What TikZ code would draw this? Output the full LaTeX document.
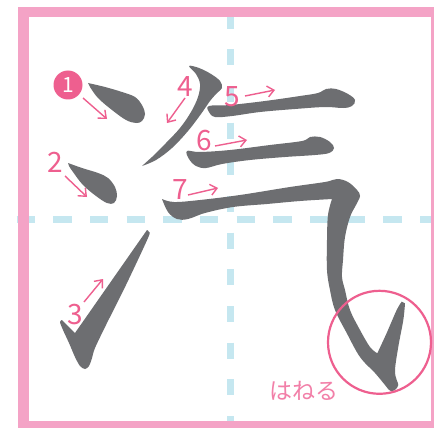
\documentclass[tikz,border=0pt]{standalone}
\usepackage{fontspec}
\newfontfamily\jp{Noto Sans CJK JP}
\usetikzlibrary{arrows.meta}
\definecolor{framepink}{HTML}{F4A3C6}
\definecolor{labpink}{HTML}{EE5F8F}
\definecolor{kanapink}{HTML}{F27FA8}
\definecolor{ink}{HTML}{6D6E71}
\definecolor{guide}{HTML}{C5E7F0}
\tikzset{
  inkfill/.style={fill=ink},
  guideline/.style={draw=guide, line width=7pt},
  numlabel/.style={text=labpink, font=\jp\fontsize{28}{28}\selectfont, inner sep=0pt},
  orderarrow/.style={draw=labpink, line width=1.4pt, -{Straight Barb[length=6.5pt,width=11pt]}},
}
\begin{document}
\begin{tikzpicture}[x=1pt,y=-1pt]
\useasboundingbox (0,0) rectangle (434,428);
\fill[white] (0,0) rectangle (434,428);
% guide lines
\draw[guideline, dash pattern=on 18.33pt off 18.34pt] (16.67,219) -- (440,219);
\draw[guideline, dash pattern=on 16pt off 20.67pt] (230.3,12.7) -- (230.3,428);
% frame
\draw[draw=framepink, line width=10.5pt] (23.5,12) rectangle (436.5,426);
% stroke 1
\fill[inkfill] plot[smooth, tension=0.6] coordinates {(88,83) (105,87) (122,92) (135,97) (142,105) (145,114) (142,121) (136,123) (126,120) (112,110) (98,98) (90,87)} -- cycle;
% stroke 2
\fill[inkfill] plot[smooth, tension=0.6] coordinates {(68,163) (82,168) (98,173) (108,178) (115,187) (117,196) (114,203) (107,203) (96,196) (83,185) (73,172) (69,166)} -- cycle;
% stroke 3
\fill[inkfill] plot[smooth, tension=0.5] coordinates {(147,230) (149,232) (148,238) (126,285) (106,325) (95,348) (92,358) (89,366) (85,369) (80,366) (75,357) (69,343) (63,330) (60,322) (62,320)} -- (75,333) -- cycle;
% stroke 4
\fill[inkfill] plot[smooth, tension=0.6] coordinates {(142,166) (156,160) (172,148) (188,131) (201,114) (210,101) (217,93) (222,88) (220,81) (211,74) (199,68) (189,66) (196,74) (200,84) (198,97) (191,112) (180,128) (166,143) (152,157)} -- cycle;
% stroke 5
\fill[inkfill] plot[smooth cycle, tension=0.6] coordinates {(209,106) (230,105) (265,101) (300,96) (318,93) (326,89) (336,89) (348,94) (355,100) (352,106) (343,108) (325,107) (295,109) (260,112) (232,116) (215,117) (209,112)};
% stroke 6
\fill[inkfill] plot[smooth cycle, tension=0.6] coordinates {(187,151) (200,152) (230,150) (270,145) (302,141) (310,137) (320,137) (330,142) (334,148) (329,153) (315,155) (285,157) (250,160) (222,164) (206,168) (196,166) (189,159)};
% stroke 7
\fill[inkfill] plot[smooth, tension=0.6] coordinates {(162,199) (174,202) (200,200) (240,195) (290,187) (325,182) (337,179) (348,182) (357,190) (360,196) (356,205) (350,217) (345,237) (343,260) (342,277) (345,290) (350,310) (360,330) (370,347) (377.3,353.3)}
  -- plot[smooth, tension=0.6] coordinates {(377.3,353.3) (386.7,333) (396.7,310) (401.7,301.7)}
  -- plot[smooth, tension=0.6] coordinates {(405,303.3) (403.3,320) (398.3,346.7) (395,370) (396.7,380) (398.3,385) (395,390) (390,390.7) (385,385) (375,373) (360,357) (346.7,333) (335,310) (330,290) (327,270) (327,240) (328,215) (332,199)}
  -- plot[smooth, tension=0.6] coordinates {(332,199) (300,201) (267,204) (233,207) (205,213) (188,219) (177,219) (168,212) (162,199)} -- cycle;
% hane circle
\node[draw=labpink, line width=2.2pt, circle, minimum size=103pt, inner sep=0pt] (hane) at (379.5,342.3) {};
\node[text=kanapink, font=\jp\fontsize{23}{23}\selectfont, inner sep=0pt] (hanelabel) at (303.5,391) {はねる};
% numbers
\node[circle, fill=labpink, minimum size=29pt, inner sep=0pt, text=white, font=\jp\fontsize{21}{21}\selectfont] (n1) at (68,85) {1};
\node[numlabel] (n2) at (55.5,162.5) {2};
\node[numlabel] (n3) at (75,314.5) {3};
\node[numlabel] (n4) at (185.5,87) {4};
\node[numlabel] (n5) at (232.5,96.5) {5};
\node[numlabel] (n6) at (204.5,141) {6};
\node[numlabel] (n7) at (180,190) {7};
% arrows
\coordinate (a1s) at (83,98); \coordinate (a1e) at (107,119);
\coordinate (a2s) at (65,176); \coordinate (a2e) at (87,197);
\coordinate (a3s) at (84,302); \coordinate (a3e) at (103,279);
\coordinate (a4s) at (185,98); \coordinate (a4e) at (167,123);
\coordinate (a5s) at (245,96); \coordinate (a5e) at (275,90);
\coordinate (a6s) at (215,146); \coordinate (a6e) at (247,140);
\coordinate (a7s) at (188,195); \coordinate (a7e) at (218,188);
\draw[orderarrow] (a1s) -- (a1e);
\draw[orderarrow] (a2s) -- (a2e);
\draw[orderarrow] (a3s) -- (a3e);
\draw[orderarrow] (a4s) -- (a4e);
\draw[orderarrow] (a5s) -- (a5e);
\draw[orderarrow] (a6s) -- (a6e);
\draw[orderarrow] (a7s) -- (a7e);
\end{tikzpicture}
\end{document}
